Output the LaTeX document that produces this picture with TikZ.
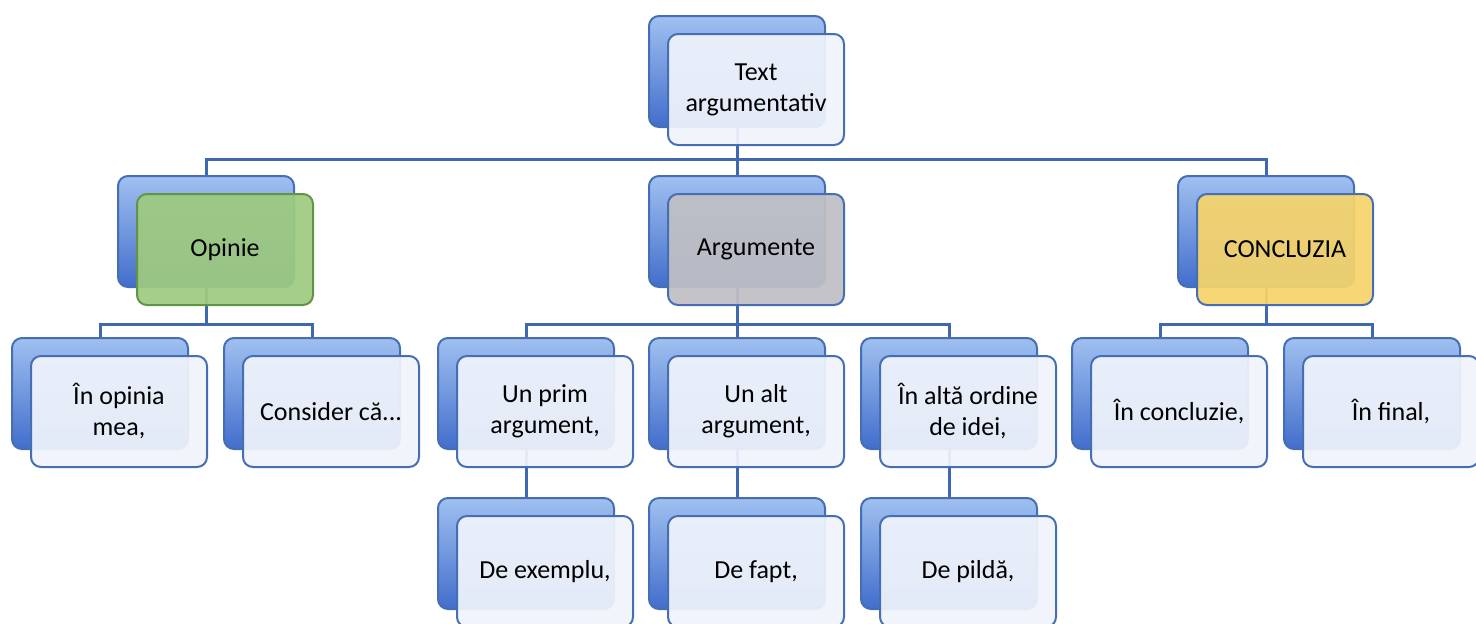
\documentclass[tikz,border=0pt]{standalone}
\usepackage{fontspec}
\setmainfont{Carlito}
\usetikzlibrary{backgrounds}

\definecolor{cardblue}{RGB}{66,110,204}
\definecolor{cardtop}{RGB}{160,192,240}
\definecolor{cardedge}{RGB}{70,110,180}
\definecolor{cardpale}{RGB}{240,244,251}
\definecolor{linkblue}{RGB}{62,104,176}
\definecolor{opgreen}{RGB}{158,202,128}
\definecolor{opedge}{RGB}{98,148,72}
\definecolor{arggrey}{RGB}{192,192,196}
\definecolor{concyellow}{RGB}{246,212,106}

\tikzset{
  backcard/.style={draw=cardedge, line width=1pt, rounded corners=5pt,
    minimum width=88pt, minimum height=55.5pt, inner sep=0pt,
    top color=cardtop, bottom color=cardblue, anchor=north west},
  frontcard/.style={draw=cardedge, line width=1pt, rounded corners=5pt,
    minimum width=88pt, minimum height=55.5pt, inner sep=4pt,
    fill=cardpale, fill opacity=0.93, text opacity=1, align=center,
    anchor=north west, font=\fontsize{13}{15.5}\selectfont},
  plaincard/.style={},
  greencard/.style={fill=opgreen, draw=opedge},
  greycard/.style={fill=arggrey},
  yellowcard/.style={fill=concyellow},
  link/.style={draw=linkblue, line width=1.5pt}
}

\begin{document}
\begin{tikzpicture}[x=0.5pt, y=-0.5pt]
  \useasboundingbox (0,0) rectangle (1476,623);

  % cards: back plate, then front plate
  \foreach \n/\x/\y/\s/\t in {
      top/648/15/plaincard/{Text\\argumentativ},
      op/117/175/greencard/{Opinie},
      arg/648/175/greycard/{Argumente},
      concl/1177/175/yellowcard/{CONCLUZIA},
      op1/11/337/plaincard/{În opinia\\mea,},
      op2/223/337/plaincard/{Consider că...},
      arg1/437/337/plaincard/{Un prim\\argument,},
      arg2/648/337/plaincard/{Un alt\\argument,},
      arg3/860/337/plaincard/{În altă ordine\\de idei,},
      concl1/1071/337/plaincard/{În concluzie,},
      concl2/1283/337/plaincard/{În final,},
      ex1/437/497/plaincard/{De exemplu,},
      ex2/648/497/plaincard/{De fapt,},
      ex3/860/497/plaincard/{De pildă,}}
  {
    \node[backcard] (\n-b) at (\x,\y) {};
    \node[frontcard,\s] (\n) at (\x+19,\y+18) {\t};
  }

  % connectors behind the cards
  \begin{scope}[on background layer]
    \foreach \p/\c in {top/op, top/arg, top/concl}
      \draw[link] (\p-b.south) -- ++(0,31) -| (\c-b.north);
    \foreach \p/\c in {op/op1, op/op2, arg/arg1, arg/arg2, arg/arg3,
                       concl/concl1, concl/concl2}
      \draw[link] (\p-b.south) -- ++(0,36) -| (\c-b.north);
    \foreach \p/\c in {arg1/ex1, arg2/ex2, arg3/ex3}
      \draw[link] (\p-b.south) -- (\c-b.north);
  \end{scope}
\end{tikzpicture}
\end{document}
